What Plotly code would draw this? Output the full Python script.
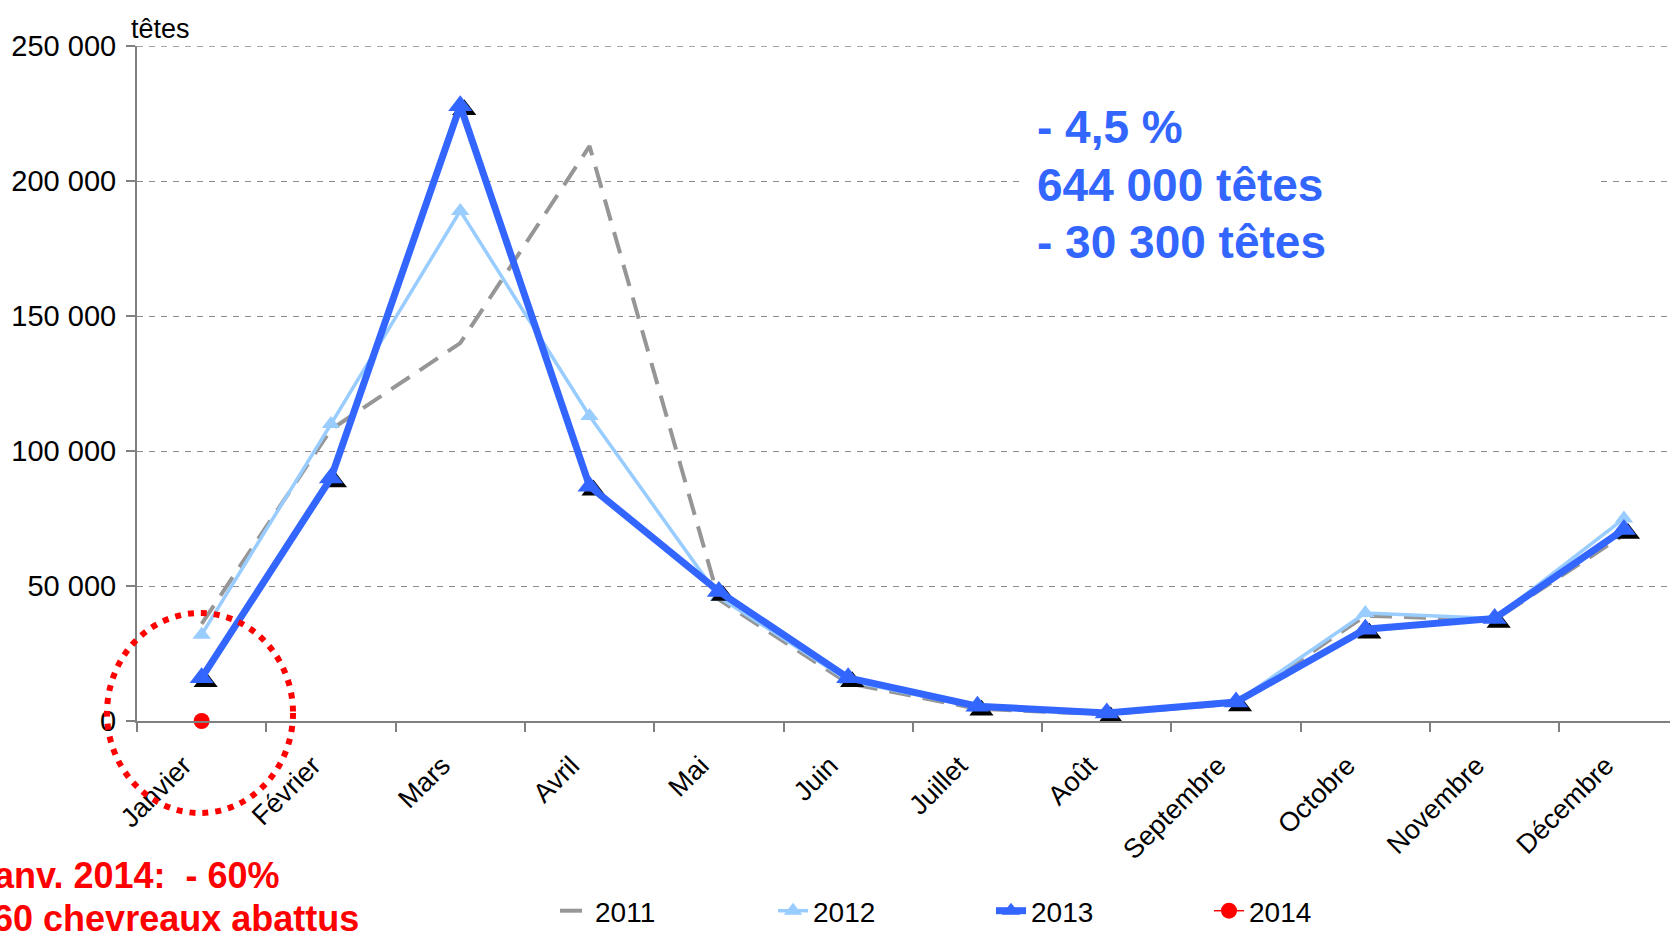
import plotly.graph_objects as go

months = ["Janvier", "Février", "Mars", "Avril", "Mai", "Juin", "Juillet",
          "Août", "Septembre", "Octobre", "Novembre", "Décembre"]
v2011 = [36000, 108000, 140000, 213000, 45000, 14000, 4500, 2500, 6500, 39000, 37500, 69000]
v2012 = [32000, 110000, 189000, 113000, 46000, 15000, 5000, 3000, 7000, 40000, 38000, 75000]
v2013 = [16000, 90000, 228000, 87000, 48000, 16000, 5500, 3000, 7000, 34000, 38000, 71000]
months_2014 = ["Janvier"]
v2014 = [0]
y_ticks = [0, 50000, 100000, 150000, 200000, 250000]

FONT = "Liberation Sans, Arial, sans-serif"
W, H = 1670, 938
L, R, T, B = 137, 0, 46, 217
plot_w = W - L - R
plot_h = H - T - B
cat_w = 129.3
x_hi = -0.5 + plot_w / cat_w
y_max = 250000
y_top = y_max + 100  # tiny headroom

# shadow offset (pixels) for the 2013 markers
sdx, sdy = 4, 4
dx = sdx / cat_w
dy = sdy * y_top / plot_h


def px_x(p):
    return (p - L) / plot_w


def px_y(p):
    return 1 - (p - T) / plot_h


fig = go.Figure()

fig.add_trace(go.Scatter(
    x=months, y=v2011, name="2011", mode="lines",
    line=dict(color="#969696", width=4, dash="22px,12px"),
    xaxis="x", yaxis="y"))
fig.add_trace(go.Scatter(
    x=months, y=v2012, name="2012", mode="lines+markers",
    line=dict(color="#99CCFF", width=3.5),
    marker=dict(symbol="triangle-up", size=16, color="#99CCFF"),
    xaxis="x", yaxis="y"))
# black shadow of 2013 markers
fig.add_trace(go.Scatter(
    x=months, y=v2013, name="shadow", mode="markers", showlegend=False,
    marker=dict(symbol="triangle-up", size=21, color="black"),
    xaxis="x2", yaxis="y2", hoverinfo="skip"))
fig.add_trace(go.Scatter(
    x=months, y=v2013, name="2013", mode="lines+markers",
    line=dict(color="#3366FF", width=7),
    marker=dict(symbol="triangle-up", size=21, color="#3366FF"),
    xaxis="x3", yaxis="y3"))
fig.add_trace(go.Scatter(
    x=months_2014, y=v2014, name="2014", mode="lines+markers",
    line=dict(color="#FF0000", width=1.5),
    marker=dict(symbol="circle", size=16, color="#FF0000"),
    cliponaxis=False, xaxis="x3", yaxis="y3"))

hidden_x = dict(type="category", categoryorder="array", categoryarray=months,
                visible=False, overlaying="x", showgrid=False, zeroline=False,
                automargin=False)
hidden_y = dict(visible=False, overlaying="y", showgrid=False, zeroline=False,
                automargin=False)

fig.update_layout(
    width=W, height=H,
    margin=dict(l=L, r=R, t=T, b=B, pad=0, autoexpand=False),
    paper_bgcolor="white", plot_bgcolor="white",
    separators=", ",
    font=dict(family=FONT, size=27, color="black"),
    xaxis=dict(
        type="category", categoryorder="array", categoryarray=months,
        range=[-0.5, x_hi], tickson="boundaries", automargin=False,
        ticks="outside", ticklen=9, tickwidth=1.5, tickcolor="#808080",
        showline=True, linecolor="#808080", linewidth=2,
        showgrid=False, zeroline=False, tickangle=-45,
        ticklabelshift=-18, ticklabelstandoff=16,
        tickfont=dict(family=FONT, size=27, color="black")),
    yaxis=dict(
        range=[0, y_top], tickvals=y_ticks, tickformat=",d", automargin=False,
        ticks="outside", ticklen=9, tickwidth=1.5, tickcolor="#808080",
        showline=True, linecolor="#808080", linewidth=2,
        showgrid=True, gridcolor="#8c8c8c", griddash="6px,6px", gridwidth=1,
        zeroline=False, ticklabelstandoff=4,
        tickfont=dict(family=FONT, size=29, color="black")),
    xaxis2=dict(hidden_x, range=[-0.5 - dx, x_hi - dx]),
    yaxis2=dict(hidden_y, range=[dy, y_top + dy]),
    xaxis3=dict(hidden_x, range=[-0.5, x_hi]),
    yaxis3=dict(hidden_y, range=[0, y_top]),
    legend=dict(
        orientation="h", xref="container", yref="container",
        x=555 / W, xanchor="left", y=1 - 911 / H, yanchor="middle",
        font=dict(family=FONT, size=28, color="black"),
        entrywidth=173, entrywidthmode="pixels",
        bgcolor="rgba(0,0,0,0)", traceorder="normal"),
    showlegend=True,
)

# top gridline (at the edge of the plot area)
fig.add_shape(type="line", xref="paper", yref="y", x0=0, x1=1,
              y0=y_ticks[-1], y1=y_ticks[-1],
              line=dict(color="#8c8c8c", width=1, dash="6px,6px"), layer="below")

# unit label
fig.add_annotation(text="têtes", xref="paper", yref="paper", x=0, y=1,
                   xanchor="left", yanchor="bottom", xshift=-8, yshift=0,
                   showarrow=False, font=dict(family=FONT, size=27, color="black"))

# white box behind the blue summary text (hides the gridlines there)
fig.add_shape(type="rect", xref="paper", yref="paper",
              x0=px_x(1022), x1=px_x(1597), y0=px_y(275), y1=px_y(88),
              fillcolor="white", line=dict(width=0), layer="above")

# blue summary text
blue_lines = ["- 4,5 %", "644 000 têtes", "- 30 300 têtes"]
blue_y = [127, 185, 242]
for txt, yp in zip(blue_lines, blue_y):
    fig.add_annotation(text="<b>%s</b>" % txt, xref="paper", yref="paper",
                       x=px_x(1035), y=px_y(yp),
                       xanchor="left", yanchor="middle", showarrow=False,
                       font=dict(family=FONT, size=46, color="#3366FF"))

# red note (partially cut off at the left edge, as in the source)
red_lines = ["Janv. 2014:  - 60%", "6 460 chevreaux abattus"]
red_right = [282, 361]
red_y = [875, 918]
for txt, xr, yp in zip(red_lines, red_right, red_y):
    fig.add_annotation(text="<b>%s</b>" % txt, xref="paper", yref="paper",
                       x=px_x(xr), y=px_y(yp),
                       xanchor="right", yanchor="middle", showarrow=False,
                       font=dict(family=FONT, size=36, color="#FF0000"))

# red dotted circle around January (paper coords so it is not clipped)
cx, cy, rx, ry = 200, 713, 93, 100
fig.add_shape(type="circle", xref="paper", yref="paper",
              x0=px_x(cx - rx), x1=px_x(cx + rx),
              y0=px_y(cy + ry), y1=px_y(cy - ry),
              line=dict(color="#FF0000", width=6, dash="6px,7px"),
              layer="above")

fig.write_html("out.html",
               config={"displayModeBar": False},
               post_script="document.body.style.margin='0';document.body.style.overflow='hidden';")
